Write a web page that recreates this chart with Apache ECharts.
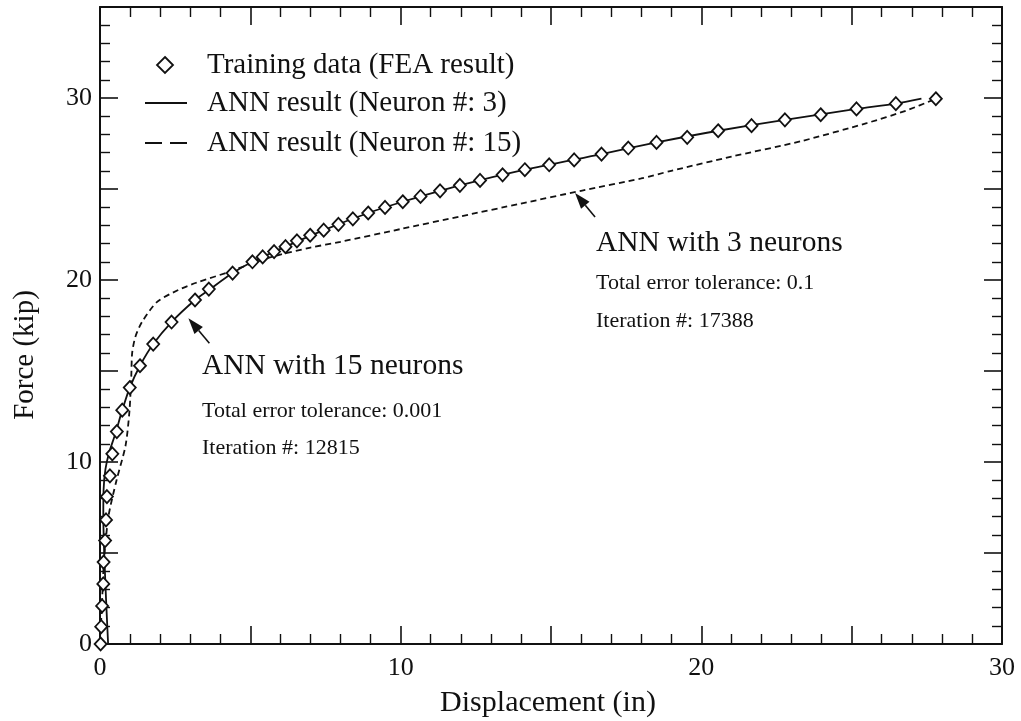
<!DOCTYPE html>
<html>
<head>
<meta charset="utf-8">
<script src="https://cdn.jsdelivr.net/npm/echarts@6/dist/echarts.min.js"></script>
<style>
  html, body { margin: 0; padding: 0; background: #fff; }
  #chart { width: 1021px; height: 721px; }
</style>
</head>
<body>
<div id="chart"></div>
<script>
// Force–displacement response: FEA training points and two ANN fits
const trainingData = [
  [0.02, 0], [0.04, 0.95], [0.07, 2.09], [0.11, 3.3], [0.12, 4.5], [0.17, 5.68],
  [0.2, 6.82], [0.23, 8.1], [0.33, 9.24], [0.41, 10.45], [0.56, 11.67], [0.74, 12.85],
  [0.99, 14.09], [1.33, 15.29], [1.77, 16.48], [2.38, 17.69], [3.16, 18.9], [3.62, 19.5],
  [4.41, 20.38], [5.07, 21.0], [5.41, 21.27], [5.79, 21.56], [6.17, 21.83], [6.55, 22.15],
  [6.99, 22.46], [7.44, 22.74], [7.93, 23.06], [8.41, 23.36], [8.92, 23.68], [9.48, 23.99],
  [10.07, 24.3], [10.66, 24.59], [11.31, 24.9], [11.97, 25.2], [12.64, 25.47], [13.39, 25.78],
  [14.13, 26.06], [14.94, 26.33], [15.77, 26.6], [16.68, 26.92], [17.57, 27.25], [18.51, 27.56],
  [19.53, 27.84], [20.56, 28.2], [21.67, 28.48], [22.78, 28.8], [23.97, 29.08], [25.16, 29.4],
  [26.47, 29.69], [27.8, 29.96]
];

const ann3 = [
  [0.27, 0], [0.2, 2.5], [0.14, 5], [0.11, 7], [0.12, 8.5], [0.18, 9.6], [0.3, 10.5],
  [0.5, 11.5], [0.74, 12.85], [0.99, 14.09], [1.33, 15.29], [1.77, 16.48], [2.38, 17.69],
  [3.16, 18.9], [3.62, 19.45], [4.41, 20.38], [5.07, 21.0], [6.17, 21.83], [7.44, 22.74],
  [8.92, 23.68], [10.07, 24.3], [11.97, 25.2], [14.13, 26.06], [16.68, 26.92], [18.51, 27.56],
  [20.56, 28.2], [22.78, 28.8], [25.16, 29.4], [26.47, 29.69], [27.32, 29.96]
];

const ann15 = [
  [0, 0], [0.06, 2], [0.13, 4.5], [0.28, 7.0], [0.55, 9.0], [0.85, 10.9], [0.98, 12.8],
  [1.04, 14.7], [1.07, 16.0], [1.18, 16.9], [1.4, 17.7], [1.9, 18.8], [2.6, 19.45],
  [3.2, 19.85], [4.3, 20.45], [5.2, 21.0], [6.0, 21.4], [7.0, 21.78], [8.0, 22.1],
  [10.0, 22.8], [12.0, 23.5], [14.0, 24.2], [16.0, 24.9], [18.0, 25.58], [19.0, 26.0],
  [21.0, 26.78], [23.3, 27.62], [25.5, 28.62], [26.8, 29.3], [27.8, 29.96]
];

const xTickLabels = [0, 10, 20, 30];
const yTickLabels = [0, 10, 20, 30];

const seriesNames = [
  'Training data (FEA result)',
  'ANN result (Neuron #: 3)',
  'ANN result (Neuron #: 15)'
];

const note15 = ['ANN with 15 neurons', 'Total error tolerance: 0.001', 'Iteration #: 12815'];
const note3 = ['ANN with 3 neurons', 'Total error tolerance: 0.1', 'Iteration #: 17388'];
const note15Target = [2.94, 17.9];
const note3Target = [15.8, 24.78];

const FONT = '"Liberation Serif", "DejaVu Serif", serif';
const INK = '#111';

const chart = echarts.init(document.getElementById('chart'), null, { renderer: 'canvas' });

function axisCommon(labels, max, show, margin) {
  return {
    type: 'value',
    min: 0,
    max: max,
    interval: 5,
    axisLine: { show: true, onZero: false, lineStyle: { color: INK, width: 2 } },
    axisTick: { show: true, inside: true, length: 18, lineStyle: { color: INK, width: 1.6 } },
    minorTick: { show: true, splitNumber: 5, length: 10, lineStyle: { color: INK, width: 1.4 } },
    splitLine: { show: false },
    minorSplitLine: { show: false },
    axisLabel: {
      show: show,
      margin: margin,
      color: INK,
      fontFamily: FONT,
      fontSize: 26,
      formatter: v => (labels.indexOf(v) >= 0 ? String(v) : '')
    }
  };
}

const option = {
  backgroundColor: '#fff',
  animation: false,
  grid: { left: 100, right: 19, top: 7, bottom: 77, containLabel: false },
  xAxis: [
    Object.assign(axisCommon(xTickLabels, 30, true, 11), { position: 'bottom' }),
    Object.assign(axisCommon(xTickLabels, 30, false, 8), { position: 'top' })
  ],
  yAxis: [
    Object.assign(axisCommon(yTickLabels, 35, true, 8), { position: 'left' }),
    Object.assign(axisCommon(yTickLabels, 35, false, 8), { position: 'right' })
  ],
  series: [
    {
      name: seriesNames[2],
      type: 'line',
      data: ann15,
      symbol: 'none',
      smooth: 0.25,
      lineStyle: { color: INK, width: 1.8, type: [6, 4] },
      z: 2
    },
    {
      name: seriesNames[1],
      type: 'line',
      data: ann3,
      symbol: 'none',
      smooth: 0.25,
      lineStyle: { color: INK, width: 1.8, type: 'solid' },
      z: 3
    },
    {
      name: seriesNames[0],
      type: 'scatter',
      data: trainingData,
      symbol: 'diamond',
      symbolSize: [12, 13],
      itemStyle: { color: '#fff', borderColor: INK, borderWidth: 1.8, opacity: 1 },
      z: 4
    }
  ]
};

chart.setOption(option);

function textEl(str, x, y, size, extra) {
  return Object.assign({
    type: 'text',
    x: x, y: y,
    style: {
      text: str, fill: INK, font: size + 'px ' + FONT,
      textAlign: 'left', textVerticalAlign: 'middle'
    },
    z: 10
  }, extra || {});
}

function arrowEls(tip, dx, dy) {
  const tail = [tip[0] + dx, tip[1] + dy];
  const len = Math.hypot(dx, dy);
  const ux = -dx / len, uy = -dy / len;      // unit vector toward the tip
  const headLen = 16, headHalf = 5.5;
  const base = [tip[0] - ux * headLen, tip[1] - uy * headLen];
  const px = -uy, py = ux;
  return [
    { type: 'line', shape: { x1: tail[0], y1: tail[1], x2: base[0], y2: base[1] },
      style: { stroke: INK, lineWidth: 1.6 }, z: 10 },
    { type: 'polygon', shape: { points: [
        tip,
        [base[0] + px * headHalf, base[1] + py * headHalf],
        [base[0] - px * headHalf, base[1] - py * headHalf]
      ] }, style: { fill: INK }, z: 10 }
  ];
}

const tip15 = chart.convertToPixel({ xAxisIndex: 0, yAxisIndex: 0 }, note15Target);
const tip3 = chart.convertToPixel({ xAxisIndex: 0, yAxisIndex: 0 }, note3Target);

// legend block
const legX = 145, legW = 42, legTextX = 207;
const legRows = [65, 103, 143];
const legend = [
  { type: 'polygon', shape: { points: [[165, legRows[0] - 8], [173, legRows[0]], [165, legRows[0] + 8], [157, legRows[0]]] },
    style: { fill: '#fff', stroke: INK, lineWidth: 1.8 }, z: 10 },
  { type: 'line', shape: { x1: legX, y1: legRows[1], x2: legX + legW, y2: legRows[1] },
    style: { stroke: INK, lineWidth: 1.8 }, z: 10 },
  { type: 'line', shape: { x1: legX, y1: legRows[2], x2: legX + legW, y2: legRows[2] },
    style: { stroke: INK, lineWidth: 1.8, lineDash: [17, 8] }, z: 10 },
  textEl(seriesNames[0], legTextX, legRows[0], 29),
  textEl(seriesNames[1], legTextX, legRows[1], 29),
  textEl(seriesNames[2], legTextX, legRows[2], 29)
];

const notes = [
  textEl(note15[0], 202, 366, 29.5),
  textEl(note15[1], 202, 411, 22),
  textEl(note15[2], 202, 448, 22),
  textEl(note3[0], 596, 243, 29.5),
  textEl(note3[1], 596, 283, 22),
  textEl(note3[2], 596, 321, 22)
].concat(arrowEls(tip15, 21, 25), arrowEls(tip3, 20, 24));

const axisNames = [
  { type: 'text', x: 548, y: 703,
    style: { text: 'Displacement (in)', fill: INK, font: '30px ' + FONT, textAlign: 'center', textVerticalAlign: 'middle' }, z: 10 },
  { type: 'text', x: 25, y: 355, rotation: Math.PI / 2,
    style: { text: 'Force (kip)', fill: INK, font: '29px ' + FONT, textAlign: 'center', textVerticalAlign: 'middle' }, z: 10 }
];

chart.setOption({ graphic: { elements: legend.concat(notes, axisNames) } });
</script>
</body>
</html>
